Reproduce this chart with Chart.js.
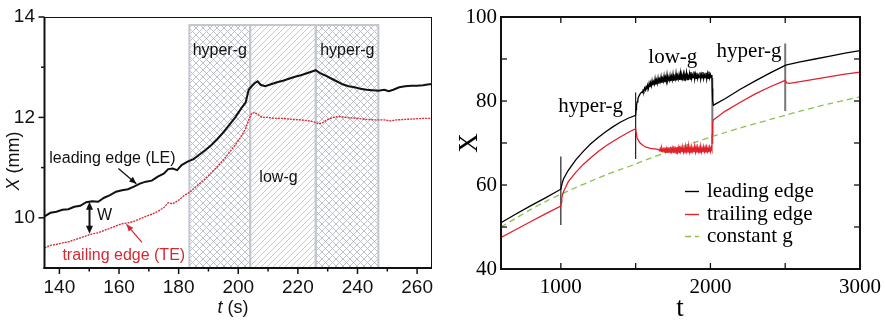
<!DOCTYPE html>
<html><head><meta charset="utf-8">
<script src="https://cdn.jsdelivr.net/npm/chart.js@4.4.0/dist/chart.umd.min.js"></script>
<style>
html,body{margin:0;padding:0;background:#fff;}
#wrap{position:relative;width:885px;height:321px;overflow:hidden;background:#fff;}
#c1{position:absolute;left:0;top:0;}
#c2{position:absolute;left:440px;top:0;}
</style></head><body>
<div id="wrap">
<canvas id="c1" width="440" height="321" style="width:440px;height:321px"></canvas>
<canvas id="c2" width="445" height="321" style="width:445px;height:321px"></canvas>
</div>
<script>
// ---------------- LEFT PANEL DATA ----------------
const leftLeadT = [135,137,139,141,143,145,147,149,151,153,155,157,159,161,163,165,167,169,171,173,175,176.5,178,179.5,181,183,185,187,189,191,193,195,197,199,201,202.5,203.5,204.5,205.5,206.5,207.5,209,211,213,215,217,219,221,223,225,226,227.5,229,231,233,235,237,239,241,243,245,247,249,250.5,252,254,256,258,260,262,264,265];
const leftLeadX = [10.03,10.10,10.12,10.16,10.17,10.22,10.24,10.31,10.33,10.32,10.40,10.45,10.52,10.55,10.57,10.62,10.68,10.72,10.74,10.82,10.88,10.97,10.98,10.95,11.05,11.12,11.17,11.26,11.35,11.45,11.57,11.70,11.85,12.00,12.18,12.30,12.55,12.62,12.68,12.72,12.65,12.62,12.66,12.70,12.73,12.77,12.81,12.84,12.88,12.92,12.94,12.88,12.84,12.78,12.72,12.66,12.62,12.60,12.57,12.55,12.54,12.53,12.55,12.52,12.55,12.60,12.62,12.63,12.63,12.64,12.66,12.66];
const leftTrailT = [135,137,139,141,143,145,147,149,151,153,155,157,159,161,163,165,167,169,171,173,175,176.5,178,180,182,183.5,185,187,189,191,193,195,197,199,201,202.5,203.5,204.5,205.5,206.5,208,210,212,215,218,221,224,226,227,228.5,230,232,234,236,238,240,243,246,249,251,253,256,259,262,265];
const leftTrailX = [9.40,9.45,9.47,9.50,9.52,9.56,9.60,9.64,9.68,9.70,9.75,9.79,9.84,9.88,9.90,9.93,9.98,10.03,10.07,10.13,10.20,10.30,10.28,10.35,10.45,10.50,10.58,10.68,10.78,10.90,11.02,11.15,11.30,11.45,11.62,11.78,11.95,12.08,12.10,12.06,12.00,12.00,11.98,11.98,11.96,11.95,11.93,11.90,11.87,11.90,11.96,12.00,12.02,12.00,11.99,11.98,11.96,11.95,11.95,11.93,11.95,11.96,11.97,11.98,11.98];
const leftXTicks = [140,160,180,200,220,240,260];
const leftXMinor = [150,170,190,210,230,250];
const leftYTicks = [10,12,14];
const leftYMinor = [11,13];
const leftRegionStart = [183.6,204,226];
const leftRegionEnd = [204,226,247];
const leftRegionKind = ['hyper','low','hyper'];
const leftRegionTop = 13.84;
const leftRegionLabels = ['hyper-g','low-g','hyper-g'];
const leftRegionLabelT = [193.8,213.5,236.6];
const leftRegionLabelX = [13.34,10.8,13.34];

// ---------------- RIGHT PANEL DATA ----------------
const rightLeadT = [600,700,800,900,1000,1005,1010,1020,1050,1100,1150,1200,1250,1300,1350,1400,1450,1500,1503,1506,1510,1515,1520,1530,
1540,1545,1550,1555,1560,1565,1570,1575,1580,1585,1590,1595,1600,1605,1610,1615,1620,1625,1630,1635,1640,1645,1650,1655,1660,1665,1670,1675,1680,1685,1690,1695,1700,1705,1710,1715,1720,1725,1730,1735,1740,1745,1750,1755,1760,1765,1770,1775,1780,1785,1790,1795,1800,1805,1810,1815,1820,1825,1830,1835,1840,1845,1850,1855,1860,1865,1870,1875,1880,1885,1890,1895,1900,1905,1910,1915,1920,1925,1930,1935,1940,1945,1950,1955,1960,1965,1970,1975,1980,1985,1990,1995,2000,2005,2010,
2012,2015,2020,2030,2100,2200,2300,2400,2500,2510,2600,2700,2800,2900,3000];
const rightLeadX = [51.0,53.1,55.1,57.0,59.0,59.8,60.6,61.6,63.5,66.0,68.0,69.8,71.3,72.7,73.9,75.0,75.9,76.6,78.0,79.0,79.8,80.5,81.0,81.7,
82.1,82.0,82.6,82.3,83.1,82.6,83.4,82.9,83.8,83.0,84.2,83.3,84.4,83.6,84.8,83.7,84.6,84.0,85.3,83.9,85.0,84.2,85.5,84.1,85.2,84.6,85.8,84.3,85.4,84.7,86.0,84.5,85.6,84.6,86.3,84.8,85.5,84.9,86.1,84.7,85.9,85.0,86.4,84.8,85.7,85.1,86.6,84.9,86.0,85.2,86.3,85.0,86.7,85.1,86.1,85.3,86.5,85.0,86.2,85.4,86.8,85.1,86.0,85.5,86.6,85.2,86.9,85.3,86.2,85.6,87.0,85.2,86.4,85.4,86.7,85.3,86.1,85.6,86.8,85.2,86.3,85.5,86.9,85.3,86.2,85.6,86.7,85.2,86.5,85.4,87.0,85.5,86.3,85.6,86.2,
83.0,80.0,79.0,79.2,80.6,82.8,84.8,86.7,88.5,88.6,89.3,90.0,90.7,91.4,92.0];
const rightTrailT = [600,700,800,900,1000,1003,1006,1010,1020,1050,1100,1150,1200,1250,1300,1350,1400,1450,1500,1503,1506,1510,1520,1530,1550,1570,1600,
1650,1660,1665,1670,1675,1680,1685,1690,1695,1700,1705,1710,1715,1720,1725,1730,1735,1740,1745,1750,1755,1760,1765,1770,1775,1780,1785,1790,1795,1800,1805,1810,1815,1820,1825,1830,1835,1840,1845,1850,1855,1860,1865,1870,1875,1880,1885,1890,1895,1900,1905,1910,1915,1920,1925,1930,1935,1940,1945,1950,1955,1960,1965,1970,1975,1980,1985,1990,1995,2000,2005,2010,
2012,2015,2020,2030,2100,2200,2300,2400,2500,2510,2530,2600,2700,2800,2900,3000];
const rightTrailX = [47.5,49.4,51.3,53.2,55.0,55.8,56.8,57.5,58.6,60.8,63.0,64.9,66.5,68.0,69.3,70.4,71.5,72.5,73.4,72.5,71.8,71.2,70.5,70.0,69.4,69.0,68.7,
68.5,68.2,68.7,68.0,68.8,68.1,68.6,67.9,68.9,68.0,68.7,67.8,69.0,68.1,68.6,67.7,69.1,68.0,68.8,67.8,69.2,68.1,68.7,67.6,69.0,67.9,68.9,67.7,69.3,68.0,68.8,67.8,69.1,67.9,68.7,67.6,69.2,68.0,68.9,67.7,69.4,67.9,68.8,67.6,69.1,68.0,68.7,67.8,69.3,67.9,68.9,67.7,69.0,68.0,68.8,67.6,69.2,67.9,68.7,67.8,69.1,68.0,68.9,67.7,69.0,68.0,68.8,67.8,69.0,68.0,68.9,68.3,
72.0,75.0,75.5,75.8,77.6,79.7,81.7,83.4,84.9,84.3,84.2,84.6,85.2,85.8,86.4,86.9];
const rightConstT = [600,700,800,900,1000,1100,1200,1300,1400,1500,1600,1700,1800,1900,2000,2100,2200,2300,2400,2500,2600,2700,2800,2900,3000];
const rightConstX = [50.0,52.1,54.2,56.1,57.8,59.4,60.9,62.4,63.7,65.0,66.4,67.7,69.0,70.2,71.4,72.5,73.6,74.6,75.6,76.6,77.6,78.5,79.4,80.2,81.0];
const markerT = [1000,1500,2013,2500];
const markerLow = [50.5,66.2,69.8,77.6];
const markerHigh = [66.8,82.0,85.5,93.7];
const rightXTicks = [1000,2000,3000];
const rightXMarks = [1000,1500,2000,2500];
const rightYTicks = [40,60,80,100];
const rightYMarks = [50,60,70,80,90];
const rightLabels = ['hyper-g','low-g','hyper-g'];
const rightLabelT = [1199,1749,2258];
const rightLabelX = [78.7,90.3,91.8];
const legendNames = ['leading edge','trailing edge','constant g'];

const pts = (ts, xs) => ts.map((t, i) => ({x: t, y: xs[i]}));

// ---------------- helpers ----------------
function makePattern(ctx, kind) {
  const s = kind === 'hyper' ? 7 : 6;
  const c = document.createElement('canvas');
  c.width = s; c.height = s;
  const g = c.getContext('2d');
  g.strokeStyle = kind === 'hyper' ? '#b7bbc6' : '#c2c5cd';
  g.lineWidth = 0.9;
  g.beginPath();
  for (let k = -1; k <= 1; k++) {
    g.moveTo(k * s, s); g.lineTo(k * s + s, 0);
    if (kind === 'hyper') { g.moveTo(k * s, 0); g.lineTo(k * s + s, s); }
  }
  g.stroke();
  return ctx.createPattern(c, 'repeat');
}
function arrowHead(ctx, x0, y0, x1, y1, len, w) {
  const a = Math.atan2(y1 - y0, x1 - x0);
  ctx.beginPath();
  ctx.moveTo(x1, y1);
  ctx.lineTo(x1 - len * Math.cos(a) + w * Math.sin(a), y1 - len * Math.sin(a) - w * Math.cos(a));
  ctx.lineTo(x1 - len * Math.cos(a) - w * Math.sin(a), y1 - len * Math.sin(a) + w * Math.cos(a));
  ctx.closePath();
  ctx.fill();
}
function line(ctx, x0, y0, x1, y1) { ctx.beginPath(); ctx.moveTo(x0, y0); ctx.lineTo(x1, y1); ctx.stroke(); }

const SANS = '"Liberation Sans", Arial, sans-serif';
const SERIF = '"Liberation Serif", "Times New Roman", serif';

// ---------------- LEFT PLUGIN ----------------
const leftPlugin = {
  id: 'leftDeco',
  beforeDatasetsDraw(chart) {
    const {ctx, scales: {x, y}} = chart;
    ctx.save();
    const pats = {hyper: makePattern(ctx, 'hyper'), low: makePattern(ctx, 'low')};
    const yTop = y.getPixelForValue(leftRegionTop), yBot = y.getPixelForValue(y.min);
    leftRegionStart.forEach((s, i) => {
      const x0 = x.getPixelForValue(s), x1 = x.getPixelForValue(leftRegionEnd[i]);
      ctx.fillStyle = pats[leftRegionKind[i]];
      ctx.fillRect(x0, yTop, x1 - x0, yBot - yTop);
    });
    ctx.strokeStyle = '#c4c7cf'; ctx.lineWidth = 2;
    leftRegionStart.forEach((s, i) => {
      const x0 = x.getPixelForValue(s), x1 = x.getPixelForValue(leftRegionEnd[i]);
      ctx.strokeRect(x0, yTop, x1 - x0, yBot - yTop);
    });
    ctx.fillStyle = '#111'; ctx.font = '16px ' + SANS;
    ctx.textAlign = 'center'; ctx.textBaseline = 'middle';
    leftRegionLabels.forEach((l, i) => ctx.fillText(l, x.getPixelForValue(leftRegionLabelT[i]), y.getPixelForValue(leftRegionLabelX[i])));
    ctx.restore();
  },
  afterDatasetsDraw(chart) {
    const {ctx, scales: {x, y}} = chart;
    const P = (t, v) => [x.getPixelForValue(t), y.getPixelForValue(v)];
    ctx.save();
    ctx.font = '16px ' + SANS; ctx.textAlign = 'center'; ctx.textBaseline = 'middle';
    ctx.fillStyle = '#111';
    let p = P(157.8, 11.18); ctx.fillText('leading edge (LE)', p[0], p[1]);
    ctx.fillStyle = '#d42a33';
    p = P(161.6, 9.24); ctx.fillText('trailing edge (TE)', p[0], p[1]);
    ctx.fillStyle = '#111'; ctx.textAlign = 'left';
    p = P(152.6, 10.04); ctx.fillText('W', p[0], p[1]);
    // LE arrow
    ctx.strokeStyle = '#111'; ctx.fillStyle = '#111'; ctx.lineWidth = 1.3;
    let a = P(159.8, 10.98), b = P(165.8, 10.68);
    line(ctx, a[0], a[1], b[0], b[1]); arrowHead(ctx, a[0], a[1], b[0], b[1], 7, 3);
    // TE arrow
    ctx.strokeStyle = '#d42a33'; ctx.fillStyle = '#d42a33';
    a = P(167.7, 9.51); b = P(162.5, 9.87);
    line(ctx, a[0], a[1], b[0], b[1]); arrowHead(ctx, a[0], a[1], b[0], b[1], 7, 3);
    // W arrow
    ctx.strokeStyle = '#111'; ctx.fillStyle = '#111'; ctx.lineWidth = 2;
    a = P(150.1, 10.32); b = P(150.1, 9.68);
    line(ctx, a[0], a[1] + 5, b[0], b[1] - 5);
    arrowHead(ctx, b[0], b[1] - 10, a[0], a[1], 8, 3.5);
    arrowHead(ctx, a[0], a[1] + 10, b[0], b[1], 8, 3.5);
    ctx.restore();
  },
  afterDraw(chart) {
    const {ctx, chartArea: c, scales: {x, y}} = chart;
    ctx.save();
    ctx.strokeStyle = '#111';
    ctx.lineWidth = 1;
    line(ctx, c.left, c.top + 0.5, c.right, c.top + 0.5);
    line(ctx, c.right - 0.5, c.top, c.right - 0.5, c.bottom);
    ctx.lineWidth = 2;
    line(ctx, c.left, c.top, c.left, c.bottom + 1);
    line(ctx, c.left - 1, c.bottom, c.right, c.bottom);
    ctx.lineWidth = 1.5;
    leftXTicks.forEach(v => { const px = x.getPixelForValue(v); line(ctx, px, c.bottom, px, c.bottom + 6); });
    leftXMinor.forEach(v => { const px = x.getPixelForValue(v); line(ctx, px, c.bottom, px, c.bottom + 3.5); });
    leftYTicks.forEach(v => { const py = y.getPixelForValue(v); line(ctx, c.left, py, c.left - 6, py); });
    leftYMinor.forEach(v => { const py = y.getPixelForValue(v); line(ctx, c.left, py, c.left - 3.5, py); });
    // axis titles
    ctx.fillStyle = '#111'; ctx.textBaseline = 'middle'; ctx.textAlign = 'left';
    ctx.font = 'italic 18px ' + SANS; const wt = ctx.measureText('t').width;
    ctx.font = '18px ' + SANS; const ws = ctx.measureText(' (s)').width;
    let sx = 233 - (wt + ws) / 2;
    ctx.font = 'italic 18px ' + SANS; ctx.fillText('t', sx, 308);
    ctx.font = '18px ' + SANS; ctx.fillText(' (s)', sx + wt, 308);
    ctx.translate(14, 161); ctx.rotate(-Math.PI / 2);
    ctx.font = 'italic 18px ' + SANS; const wX = ctx.measureText('X').width;
    ctx.font = '18px ' + SANS; const wm = ctx.measureText(' (mm)').width;
    sx = -(wX + wm) / 2;
    ctx.font = 'italic 18px ' + SANS; ctx.fillText('X', sx, 0);
    ctx.font = '18px ' + SANS; ctx.fillText(' (mm)', sx + wX, 0);
    ctx.restore();
  }
};

// ---------------- RIGHT PLUGIN ----------------
const rightPlugin = {
  id: 'rightDeco',
  afterDatasetsDraw(chart) {
    const {ctx, chartArea: c, scales: {x, y}} = chart;
    ctx.save();
    ctx.fillStyle = '#000'; ctx.font = '21px ' + SERIF; ctx.textAlign = 'center'; ctx.textBaseline = 'middle';
    rightLabels.forEach((l, i) => ctx.fillText(l, x.getPixelForValue(rightLabelT[i]), y.getPixelForValue(rightLabelX[i])));
    // legend
    const ds = chart.data.datasets;
    const rowsY = [191.5, 214.5, 236.5];
    ctx.textAlign = 'left';
    for (let i = 0; i < 3; i++) {
      const d = ds[i];
      ctx.strokeStyle = d.borderColor; ctx.lineWidth = 1.4;
      ctx.setLineDash(d.borderDash || []);
      line(ctx, 685 - 440, rowsY[i], 699 - 440, rowsY[i]);
      ctx.setLineDash([]);
      ctx.fillStyle = '#000';
      ctx.fillText(legendNames[i], 707 - 440, rowsY[i]);
    }
    ctx.restore();
  },
  afterDraw(chart) {
    const {ctx, chartArea: c, scales: {x, y}} = chart;
    ctx.save();
    ctx.strokeStyle = '#111'; ctx.lineWidth = 2;
    ctx.strokeRect(c.left, c.top, c.right - c.left, c.bottom - c.top);
    ctx.lineWidth = 1.3;
    rightXMarks.forEach(v => { const px = x.getPixelForValue(v); line(ctx, px, c.bottom, px, c.bottom - 6); line(ctx, px, c.top, px, c.top + 6); });
    rightYMarks.forEach(v => { const py = y.getPixelForValue(v); line(ctx, c.left, py, c.left + 6, py); line(ctx, c.right, py, c.right - 6, py); });
    ctx.fillStyle = '#000'; ctx.font = '27px ' + SERIF; ctx.textAlign = 'center'; ctx.textBaseline = 'alphabetic';
    ctx.fillText('t', 680 - 440, 316);
    ctx.translate(477 - 440, 143); ctx.rotate(-Math.PI / 2);
    ctx.fillText('X', 0, 0);
    ctx.restore();
  }
};

// ---------------- CHARTS ----------------
new Chart(document.getElementById('c1'), {
  type: 'line',
  data: {datasets: [
    {data: pts(leftLeadT, leftLeadX), borderColor: '#111', borderWidth: 2, pointRadius: 0, tension: 0},
    {data: pts(leftTrailT, leftTrailX), borderColor: '#d42a33', borderWidth: 1.4, borderDash: [2, 1], pointRadius: 0, tension: 0}
  ]},
  options: {
    responsive: false, animation: false, devicePixelRatio: 1,
    layout: {padding: {left: 0, right: 8, top: 17, bottom: 0}},
    plugins: {legend: {display: false}, tooltip: {enabled: false}},
    scales: {
      x: {type: 'linear', min: 135, max: 265, grid: {display: false, drawTicks: false}, border: {display: false},
        afterBuildTicks: s => { s.ticks = leftXTicks.map(v => ({value: v})); },
        afterFit: s => { s.height = 53; s.paddingLeft = 0; s.paddingRight = 0; },
        ticks: {font: {family: SANS, size: 19}, color: '#111', padding: 8, maxRotation: 0, autoSkip: false, callback: v => String(v)}},
      y: {type: 'linear', min: 9, max: 14, grid: {display: false, drawTicks: false}, border: {display: false},
        afterBuildTicks: s => { s.ticks = leftYTicks.map(v => ({value: v})); },
        afterFit: s => { s.width = 44.5; s.paddingTop = 0; s.paddingBottom = 0; },
        ticks: {font: {family: SANS, size: 19}, color: '#111', padding: 9.5, autoSkip: false, callback: v => String(v)}}
    }
  },
  plugins: [leftPlugin]
});

const markerDatasets = markerT.map((t, i) => ({
  data: [{x: t, y: markerLow[i]}, {x: t, y: markerHigh[i]}],
  borderColor: i < 2 ? '#222' : '#777', borderWidth: i < 2 ? 1.2 : 2, pointRadius: 0
}));

new Chart(document.getElementById('c2'), {
  type: 'line',
  data: {datasets: [
    {data: pts(rightLeadT, rightLeadX), borderColor: '#000', borderWidth: 1.3, pointRadius: 0, tension: 0},
    {data: pts(rightTrailT, rightTrailX), borderColor: '#e0202a', borderWidth: 1.3, pointRadius: 0, tension: 0},
    {data: pts(rightConstT, rightConstX), borderColor: '#86c44e', borderWidth: 1.3, borderDash: [6, 4], pointRadius: 0, tension: 0.3},
    ...markerDatasets
  ]},
  options: {
    responsive: false, animation: false, devicePixelRatio: 1,
    layout: {padding: {left: 0, right: 25, top: 17, bottom: 0}},
    plugins: {legend: {display: false}, tooltip: {enabled: false}},
    scales: {
      x: {type: 'linear', min: 600, max: 3000, grid: {display: false, drawTicks: false}, border: {display: false},
        afterBuildTicks: s => { s.ticks = rightXTicks.map(v => ({value: v})); },
        afterFit: s => { s.height = 52; s.paddingLeft = 0; s.paddingRight = 0; },
        ticks: {font: {family: SERIF, size: 21}, color: '#000', padding: 6, maxRotation: 0, autoSkip: false, callback: v => String(v)}},
      y: {type: 'linear', min: 40, max: 100, grid: {display: false, drawTicks: false}, border: {display: false},
        afterBuildTicks: s => { s.ticks = rightYTicks.map(v => ({value: v})); },
        afterFit: s => { s.width = 61; s.paddingTop = 0; s.paddingBottom = 0; },
        ticks: {font: {family: SERIF, size: 21}, color: '#000', padding: 4, autoSkip: false, callback: v => String(v)}}
    }
  },
  plugins: [rightPlugin]
});
</script>
</body></html>
